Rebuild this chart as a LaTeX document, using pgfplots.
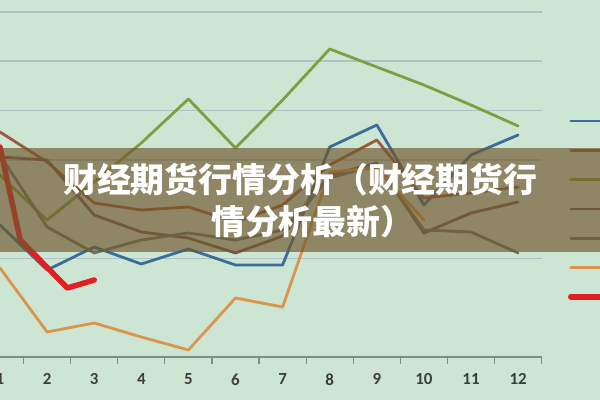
\documentclass[border=0pt]{standalone}
\usepackage{fontspec}
\usepackage{pgfplots}
\pgfplotsset{compat=1.18}
\newfontfamily\carlito{Carlito}
\newfontfamily\cjk{Noto Sans CJK SC}
\definecolor{bg}{RGB}{205,230,211}
\definecolor{gridc}{RGB}{172,195,200}
\definecolor{gridlow}{RGB}{196,220,212}
\definecolor{axisc}{RGB}{125,140,140}
\definecolor{labelc}{RGB}{60,62,62}
\definecolor{cblue}{RGB}{60,108,152}
\definecolor{crust}{RGB}{158,88,60}
\definecolor{colive}{RGB}{125,158,65}
\definecolor{cdbrown}{RGB}{118,92,78}
\definecolor{cgray}{RGB}{105,124,104}
\definecolor{corange}{RGB}{218,148,76}
\definecolor{cred}{RGB}{226,30,35}
\definecolor{banner}{RGB}{112,88,46}

\pgfplotstableread{
x blue rust olive dbrown gray
1  132  225  182  200  202
2  87   195  137  197  130
3  110  154  175  142  104
4  93   147  214  125  117
5  108  150  258  119  124
6  92   135  209  104  117
7  92   152  257  121  127
8  210  192  308  182  179
9  232  217  290  194  192
10 152  159  272  124  127
11 202  164  252  144  125
12 222  170  231  155  104
}\main

\pgfplotstableread{
x orange
1  89
2  25
3  34
4  20
5  7
6  59
7  50
8  185
9  189
10 137
}\orangetab

\pgfplotstableread{
x red
1    210
1.43 117
2.43 69
3.0  77
}\redtab

\begin{document}
\begin{tikzpicture}
\useasboundingbox (0bp,0bp) rectangle (600bp,400bp);
\clip (0bp,0bp) rectangle (600bp,400bp);
\fill[bg] (0bp,0bp) rectangle (600bp,400bp);
\begin{axis}[
  at={(-23.55bp,43bp)}, anchor=south west,
  x=47.1bp, y=1bp,
  xmin=0.5, xmax=12.5, ymin=0, ymax=400,
  axis x line*=bottom, axis y line*=left,
  axis line style={draw=axisc, line width=1.3bp},
  xtick={1,2,...,12},
  major x tick style={draw=none},
  minor xtick={0.5,1.5,...,12.5},
  minor x tick style={draw=axisc, line width=1.2bp},
  minor tick length=7bp,
  tick align=outside,
  ytick={246.5,295.8,345.1},
  yticklabels={},
  major y tick style={draw=none},
  ymajorgrids=true,
  major grid style={draw=gridc, line width=1.6bp},
  extra y ticks={98.6,197.2},
  extra y tick labels={},
  extra y tick style={grid style={draw=gridlow, line width=1.4bp}, major tick length=0pt},
  /pgf/number format/assume math mode=true,
  xticklabel style={font=\carlito\bfseries\fontsize{17}{17}\selectfont, text=labelc, yshift=-9bp},
  legend image code/.code={\path[draw=none,fill=none] (0bp,-14.65bp) rectangle (45bp,14.65bp);\draw[#1] (0bp,0bp) -- (45bp,0bp);},
  legend style={at={(1.0467,0.6266)}, anchor=north west, draw=none, fill=none,
    inner sep=0pt, outer sep=0pt, row sep=0pt,
    nodes={inner sep=0pt, outer sep=0pt}},
  every axis plot/.append style={line width=2.8bp, line join=round, line cap=round, no marks},
]
\addplot[cblue] table[x=x,y=blue]{\main};
\addlegendentry{}
\addplot[crust] table[x=x,y=rust]{\main};
\addlegendentry{}
\addplot[colive] table[x=x,y=olive]{\main};
\addlegendentry{}
\addplot[cdbrown] table[x=x,y=dbrown]{\main};
\addlegendentry{}
\addplot[cgray] table[x=x,y=gray]{\main};
\addlegendentry{}
\addplot[corange] table[x=x,y=orange]{\orangetab};
\addlegendentry{}
\addplot[cred, line width=5.5bp] table[x=x,y=red]{\redtab};
\addlegendentry{}
\end{axis}
\fill[banner, fill opacity=0.67] (0bp,148bp) rectangle (600bp,252bp);
\node[anchor=west, inner sep=0pt, text=white, font=\cjk\bfseries\fontsize{34}{34}\selectfont] at (63bp,220bp) {财经期货行情分析（财经期货行};
\node[anchor=west, inner sep=0pt, text=white, font=\cjk\bfseries\fontsize{34}{34}\selectfont] at (211bp,178bp) {情分析最新）};
\end{tikzpicture}
\end{document}
